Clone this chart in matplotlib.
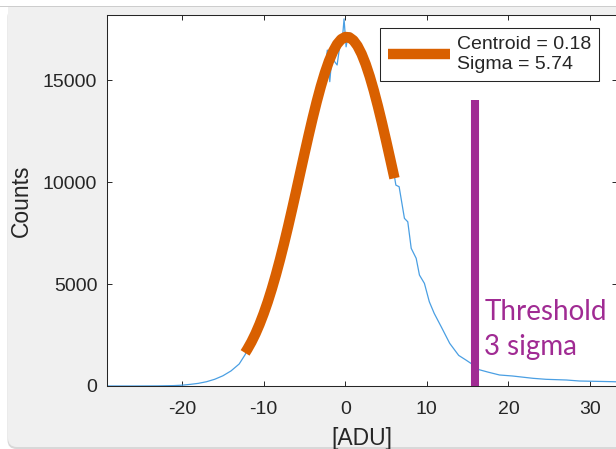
import matplotlib.pyplot as plt
from matplotlib.patches import Rectangle, FancyBboxPatch
from matplotlib.transforms import IdentityTransform

plt.rcParams['font.family'] = ['Liberation Sans', 'DejaVu Sans']
plt.rcParams['axes.unicode_minus'] = False

# histogram outline
hist_x = [-29.2, -26, -23, -21, -20, -19, -18, -17, -16, -15,
          -14, -13, -12.3, -12, -11, -10, -9, -8, -7, -6,
          -5, -4, -3, -2.5, -2.2, -1.9, -1.6, -1.3, -1.0, -0.7,
          -0.4, -0.15, 0.1, 0.4, 0.7, 1.0, 1.2, 1.5, 1.8, 2.2,
          3, 4, 5, 6.0, 6.2, 6.6, 7.25, 7.66, 8.08, 8.69,
          9.09, 9.7, 10.3, 10.9, 11.75, 12.8, 13.9, 14.8, 15.4, 16.4,
          17.5, 18.9, 20.5, 23, 24.6, 27.1, 28.7, 30.5, 32.8, 33.3]
hist_y = [0, 0, 5, 20, 40, 80, 130, 210, 330, 500,
          740, 1080, 1520, 1750, 2570, 3550, 4770, 6200, 7830, 9590,
          11390, 13130, 14680, 15400, 16470, 14920, 16300, 15900, 15740, 16600,
          16800, 18000, 16630, 17300, 17290, 16700, 16960, 16500, 16800, 16200,
          15170, 13720, 12030, 10340, 9850, 9770, 8220, 8050, 6750, 6260,
          5440, 5030, 4130, 3560, 2910, 2090, 1500, 1270, 1110, 800,
          680, 540, 490, 377, 328, 294, 245, 230, 211, 205]

# gaussian fit curve
fit_x = [-12.28, -12, -11.5, -11, -10.5, -10, -9.5, -9, -8.5, -8,
         -7.5, -7, -6.5, -6, -5.5, -5, -4.5, -4, -3.5, -3,
         -2.5, -2, -1.5, -1, -0.5, 0, 0.5, 1, 1.5, 2,
         2.5, 3, 3.5, 4, 4.5, 5, 5.5, 6.03]
fit_y = [1623, 1803, 2160, 2568, 3032, 3553, 4129, 4765, 5456, 6201,
         6995, 7829, 8699, 9589, 10493, 11394, 12278, 13133, 13940, 14684,
         15351, 15929, 16402, 16762, 17000, 17112, 17093, 16946, 16673, 16281,
         15778, 15173, 14483, 13718, 12898, 12034, 11142, 10186]
fit_label = 'Centroid = 0.18\nSigma = 5.74'

threshold_x = 15.9
threshold_top = 14000

x_ticks = [-20, -10, 0, 10, 20, 30]
y_ticks = [0, 5000, 10000, 15000]

blue = '#4A9FE3'
orange = '#D96000'
purple = '#A02B93'
dark = '#262626'

fig = plt.figure(figsize=(6.16, 4.49), dpi=100, facecolor='white')

# window-like grey panel behind the axes
px = IdentityTransform()
fig.add_artist(FancyBboxPatch((7.5, 0), 660, 441, boxstyle='round,pad=0,rounding_size=9',
                              transform=px, fc='#d8d8d8', ec='none', zorder=-12))
fig.add_artist(FancyBboxPatch((8, 2), 660, 200, boxstyle='round,pad=0,rounding_size=9',
                              transform=px, fc='#f0f0f0', ec='none', zorder=-11))
fig.add_artist(Rectangle((8, 100), 660, 342, transform=px, fc='#f0f0f0', ec='none', zorder=-11))
fig.add_artist(Rectangle((0, 442), 616, 1.5, transform=px, fc='#cdcdcd', ec='none', zorder=-11))

ax = fig.add_axes([107 / 616, 63 / 449, 510 / 616, 371 / 449])
ax.set_facecolor('white')

ax.plot(hist_x, hist_y, color=blue, lw=0.9, zorder=2)
ax.plot(fit_x, fit_y, color=orange, lw=7.5, solid_capstyle='butt', zorder=3, label=fit_label)
ax.vlines(threshold_x, 0, threshold_top, color=purple, lw=5.8, zorder=4)

ax.text(17.06, 3235, 'Threshold', family=['Lato', 'DejaVu Sans'], fontsize=20,
        color=purple, va='baseline', ha='left')
ax.text(17.06, 1520, '3 sigma', family=['Lato', 'DejaVu Sans'], fontsize=20,
        color=purple, va='baseline', ha='left')

ax.set_xlim(-29.2, 33.3)
ax.set_ylim(0, 18190)
ax.set_xticks(x_ticks)
ax.set_yticks(y_ticks)
ax.tick_params(direction='in', top=True, right=True, length=3.3, width=0.7,
               colors=dark, labelsize=14)
ax.tick_params(axis='x', pad=11)
ax.tick_params(axis='y', pad=7)
for s in ax.spines.values():
    s.set_color(dark)
    s.set_linewidth(0.75)

ax.set_xlabel('[ADU]', fontsize=16.5, color=dark, labelpad=6.5)
ax.set_ylabel('Counts', fontsize=16.5, color=dark, labelpad=7)

leg = ax.legend(loc='upper left', bbox_to_anchor=(0.536, 0.964), borderaxespad=0,
                fancybox=False, edgecolor=dark, framealpha=1, borderpad=0.4,
                handlelength=3.2, handletextpad=0.35, fontsize=14)
leg.get_frame().set_linewidth(0.75)
for t in leg.get_texts():
    t.set_color(dark)

fig.savefig('out.png', dpi=100, facecolor=fig.get_facecolor())
